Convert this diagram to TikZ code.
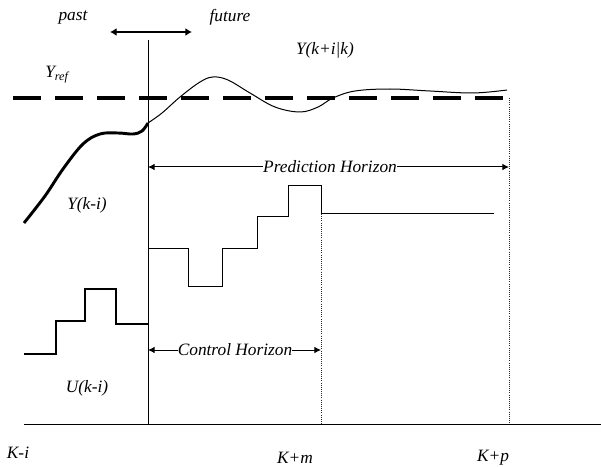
\documentclass[tikz,border=0pt]{standalone}
\usepackage{fontspec}
\setmainfont{Liberation Serif}
\usetikzlibrary{arrows.meta,positioning}
\tikzset{
 lbl/.style={font=\itshape\fontsize{13}{15}\selectfont, inner sep=0pt},
 thinline/.style={line width=0.75pt},
 thickline/.style={line width=2.2pt, line join=round},
 refline/.style={line width=3pt, dash pattern=on 21pt off 10.5pt},
 guide/.style={line width=0.6pt, densely dotted, draw=black!85},
 horizon/.style={-{Latex[length=5pt,width=5pt]}, line width=0.75pt},
 timearrow/.style={{Latex[length=5pt,width=6pt]}-{Latex[length=5pt,width=6pt]}, line width=1.5pt}
}

\begin{document}
\begin{tikzpicture}[x=0.75pt,y=-0.75pt]
 \useasboundingbox (0,0) rectangle (601,467);
 % axes and guides
 \coordinate (now-top) at (148,40);
 \coordinate (now-bot) at (148,424);
 \coordinate (ax-l) at (24,424);
 \coordinate (ax-r) at (601,424);
 \coordinate (m-top) at (321,214);
 \coordinate (m-bot) at (321,424);
 \coordinate (p-top) at (509,98);
 \coordinate (p-bot) at (509,424);
 \draw[thinline] (now-top) -- (now-bot);
 \draw[thinline] (ax-l) -- (ax-r);
 \draw[guide] (m-top) -- (m-bot);
 \draw[guide] (p-top) -- (p-bot);
 % reference
 \coordinate (ref-l) at (13,98);
 \coordinate (ref-r) at (505,98);
 \draw[refline] (ref-l) -- (ref-r);
 % past / future
 \coordinate (pf-l) at (110,32);
 \coordinate (pf-r) at (192,32);
 \draw[timearrow] (pf-l) -- (pf-r);
 \node[lbl] (past) at (73,17) {past};
 \node[lbl] (future) at (230,17) {future};
 % outputs
 \draw[thickline] plot[smooth, tension=0.6] coordinates {(24,223) (45,196) (63,169) (83,144) (100,134) (118,133) (133,134) (142,131) (148,123)};
 \draw[thinline] plot[smooth, tension=0.6] coordinates {(148,123) (162,113) (180,97) (200,82) (213,77) (228,80) (250,93) (275,107) (300,112) (318,107) (333,98) (355,91) (390,89) (430,91) (473,93) (507,90)};
 \node[lbl] (yref) at (57,75) {Y\textsubscript{ref}};
 \node[lbl] (ypred) at (325,50) {Y(k+i|k)};
 \node[lbl] (ypast) at (87,205) {Y(k-i)};
 % inputs
 \draw[thickline, line join=miter] (24,354) -- (56,354) -- (56,321) -- (85,321) -- (85,289) -- (116,289) -- (116,324) -- (148,324);
 \draw[thinline] (148,249) -- (188,249) -- (188,287) -- (222,287) -- (222,249) -- (257,249) -- (257,217) -- (288,217) -- (288,186) -- (321,186) -- (321,214) -- (494,214);
 \node[lbl] (upast) at (87,388) {U(k-i)};
 % horizons
 \node[lbl] (ph) at (330,167) {Prediction Horizon};
 \coordinate (ph-l) at (148,167);
 \coordinate (ph-r) at (509,167);
 \draw[horizon] (ph.west) -- (ph-l);
 \draw[horizon] (ph.east) -- (ph-r);
 \node[lbl] (ch) at (235,350) {Control Horizon};
 \coordinate (ch-l) at (148,350);
 \coordinate (ch-r) at (321,350);
 \draw[horizon] (ch.west) -- (ch-l);
 \draw[horizon] (ch.east) -- (ch-r);
 % time marks
 \node[lbl] (ki) at (18,453) {K-i};
 \node[lbl] (km) at (295,458) {K+m};
 \node[lbl] (kp) at (493,458) {K+p};
\end{tikzpicture}
\end{document}
